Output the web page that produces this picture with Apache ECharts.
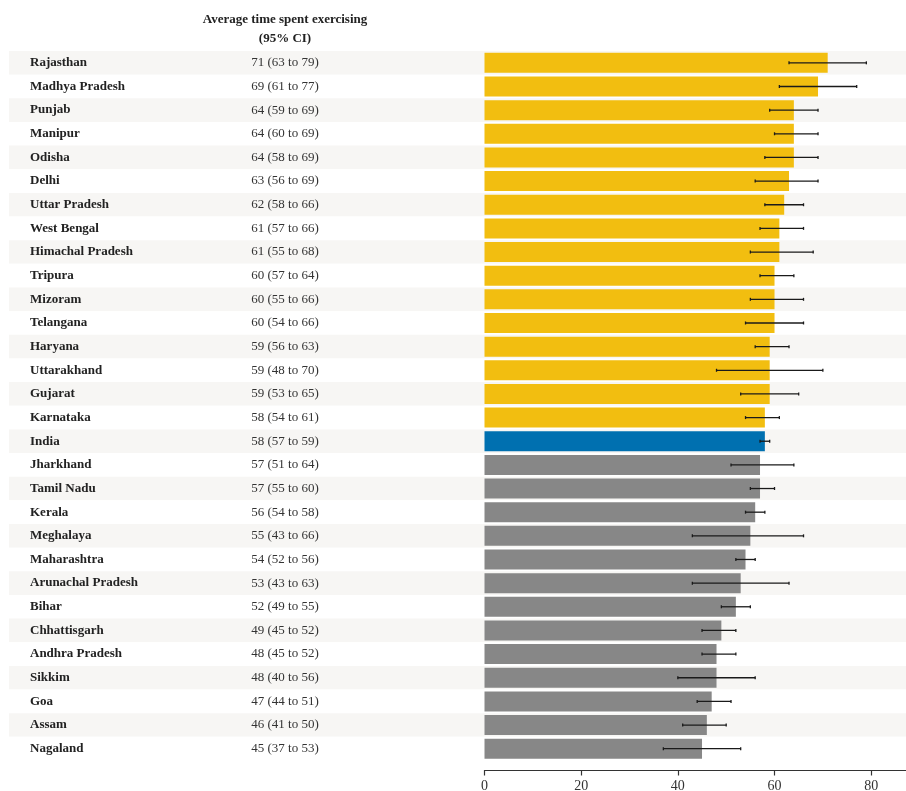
<!DOCTYPE html>
<html>
<head>
<meta charset="utf-8">
<script src="https://cdn.jsdelivr.net/npm/echarts@6/dist/echarts.min.js"></script>
<style>
  html, body { margin: 0; padding: 0; background: #fff; }
  #chart { width: 906px; height: 791px; }
</style>
</head>
<body>
<div id="chart"></div>
<script>
// States ordered by average minutes spent exercising (India shown as reference row)
const states = [
  'Rajasthan', 'Madhya Pradesh', 'Punjab', 'Manipur', 'Odisha', 'Delhi',
  'Uttar Pradesh', 'West Bengal', 'Himachal Pradesh', 'Tripura', 'Mizoram',
  'Telangana', 'Haryana', 'Uttarakhand', 'Gujarat', 'Karnataka', 'India',
  'Jharkhand', 'Tamil Nadu', 'Kerala', 'Meghalaya', 'Maharashtra',
  'Arunachal Pradesh', 'Bihar', 'Chhattisgarh', 'Andhra Pradesh', 'Sikkim',
  'Goa', 'Assam', 'Nagaland'
];
const meanMinutes = [71, 69, 64, 64, 64, 63, 62, 61, 61, 60, 60, 60, 59, 59, 59, 58, 58,
  57, 57, 56, 55, 54, 53, 52, 49, 48, 48, 47, 46, 45];
const ciLow = [63, 61, 59, 60, 58, 56, 58, 57, 55, 57, 55, 54, 56, 48, 53, 54, 57,
  51, 55, 54, 43, 52, 43, 49, 45, 45, 40, 44, 41, 37];
const ciHigh = [79, 77, 69, 69, 69, 69, 66, 66, 68, 64, 66, 66, 63, 70, 65, 61, 59,
  64, 60, 58, 66, 56, 63, 55, 52, 52, 56, 51, 50, 53];
// 'above' = above national average, 'nation' = India, 'below' = at or below
const groups = states.map((s, i) => {
  const nat = states.indexOf('India');
  return i < nat ? 'above' : (i === nat ? 'nation' : 'below');
});
const groupColors = { above: '#F2BE10', nation: '#0070B0', below: '#878787' };
const xTicks = [0, 20, 40, 60, 80];

const serif = '"Liberation Serif", "Times New Roman", serif';
const chart = echarts.init(document.getElementById('chart'));

const gridTop = 51;
const gridHeight = 709.5;

chart.setOption({
  animation: false,
  backgroundColor: '#fff',
  title: {
    text: 'Average time spent exercising\n(95% CI)',
    left: 280,
    top: 5,
    textAlign: 'center',
    textStyle: {
      fontFamily: serif, fontSize: 13, fontWeight: 'bold', color: '#222', lineHeight: 19
    }
  },
  grid: [
    { left: 9, right: 0, top: gridTop, height: gridHeight, outerBoundsMode: 'none' },
    { left: 484.5, right: 0, top: gridTop, height: gridHeight, outerBoundsMode: 'none' }
  ],
  xAxis: [
    { gridIndex: 0, type: 'value', min: 0, max: 1, show: false },
    {
      gridIndex: 1, type: 'value', min: 0, max: 87.2, interval: 20,
      offset: 10,
      splitLine: { show: false },
      axisLine: { show: true, lineStyle: { color: '#333', width: 1.2 } },
      axisTick: { show: true, length: 5, customValues: xTicks, lineStyle: { color: '#333', width: 1.2 } },
      axisLabel: {
        customValues: xTicks,
        fontFamily: serif, fontSize: 14, color: '#333', margin: 9
      }
    }
  ],
  yAxis: [
    {
      gridIndex: 0, type: 'category', data: states, inverse: true,
      axisLine: { show: false }, axisTick: { show: false },
      splitLine: { show: false },
      splitArea: { show: true, areaStyle: { color: ['#F7F6F4', '#FFFFFF'] } },
      axisLabel: {
        inside: true, margin: 21,
        formatter: (v, i) => `{n|${v}}{v|${meanMinutes[i]} (${ciLow[i]} to ${ciHigh[i]})}`,
        rich: {
          n: { fontFamily: serif, fontSize: 13, fontWeight: 'bold', color: '#222', width: 200 },
          v: { fontFamily: serif, fontSize: 13, color: '#333', width: 110, align: 'center' }
        }
      }
    },
    {
      gridIndex: 1, type: 'category', data: states, inverse: true,
      axisLine: { show: false }, axisTick: { show: false }, axisLabel: { show: false }
    }
  ],
  series: [
    {
      type: 'bar',
      xAxisIndex: 1, yAxisIndex: 1,
      barWidth: 20,
      data: meanMinutes.map((v, i) => ({ value: v, itemStyle: { color: groupColors[groups[i]] } })),
      silent: true
    },
    {
      type: 'custom',
      xAxisIndex: 1, yAxisIndex: 1,
      data: states.map((s, i) => [i, ciLow[i], ciHigh[i]]),
      encode: { x: [1, 2], y: 0 },
      renderItem: (params, api) => {
        const idx = api.value(0);
        const p0 = api.coord([api.value(1), idx]);
        const p1 = api.coord([api.value(2), idx]);
        const cap = 1.5;
        const style = { stroke: '#1a1a1a', lineWidth: 1.3 };
        return {
          type: 'group',
          children: [
            { type: 'line', shape: { x1: p0[0], y1: p0[1], x2: p1[0], y2: p1[1] }, style },
            { type: 'line', shape: { x1: p0[0], y1: p0[1] - cap, x2: p0[0], y2: p0[1] + cap }, style },
            { type: 'line', shape: { x1: p1[0], y1: p1[1] - cap, x2: p1[0], y2: p1[1] + cap }, style }
          ]
        };
      },
      z: 5
    }
  ]
});
</script>
</body>
</html>
